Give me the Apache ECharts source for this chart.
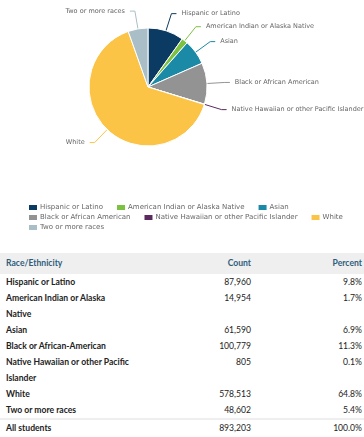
<!DOCTYPE html>
<html>
<head>
<meta charset="utf-8">
<script src="https://cdn.jsdelivr.net/npm/echarts@6/dist/echarts.min.js"></script>
<style>
  html, body { margin: 0; padding: 0; background: #fff; width: 364px; height: 437px; overflow: hidden; }
  #chart { position: absolute; left: 0; top: 0; width: 364px; height: 250px; }
  #tbl { position: absolute; left: 0; top: 253px; width: 364px; font-family: Lato, "Open Sans", sans-serif; font-size: 8.6px; color: #222; font-weight: bold; }
  .row { display: flex; line-height: 16px; }
  .c1 { width: 134px; padding-left: 6px; box-sizing: border-box; white-space: pre; }
  .c2 { width: 117px; text-align: right; font-weight: normal; }
  .c3 { width: 111px; text-align: right; font-weight: normal; }
  .hdr { background: #efefef; line-height: 21px; color: #2e5d7c; }
  .hdr .c2, .hdr .c3 { font-weight: bold; }
  .total { border-top: 2px solid #eeeeee; }
</style>
</head>
<body>
<div id="chart"></div>
<div id="tbl"></div>
<script>
// Legend / pie categories
var categories = ["Hispanic or Latino", "American Indian or Alaska Native", "Asian", "Black or African American", "Native Hawaiian or other Pacific Islander", "White", "Two or more races"];
// Student counts
var counts = [87960, 14954, 61590, 100779, 805, 578513, 48602];
// Table labels (line breaks as in the source table) and percents
var tableLabels = ["Hispanic or Latino", "American Indian or Alaska\nNative", "Asian", "Black or African-American", "Native Hawaiian or other Pacific\nIslander", "White", "Two or more races"];
var percents = ["9.8%", "1.7%", "6.9%", "11.3%", "0.1%", "64.8%", "5.4%"];
var totalLabel = "All students";
var totalCount = 893203;
var totalPercent = "100.0%";
var colors = ["#0b3a62", "#7cc142", "#1a8aa6", "#939393", "#5b2a5e", "#fcc447", "#a9bec7"];

var legendRows = [
  ["Hispanic or Latino", "American Indian or Alaska Native", "Asian"],
  ["Black or African American", "Native Hawaiian or other Pacific Islander", "White"],
  ["Two or more races"]
];

var chart = echarts.init(document.getElementById('chart'));
var legendBase = {
  orient: 'horizontal', left: 22, itemWidth: 10, itemHeight: 7, itemGap: 12,
  icon: 'rect',
  textStyle: { fontFamily: 'DejaVu Sans', fontSize: 7, color: '#666', padding: [0, 0, 0, -3] }
};
var legends = legendRows.map(function (row, i) {
  return Object.assign({}, legendBase, { data: row, top: 198 + i * 10 });
});

chart.setOption({
  animation: false,
  color: colors,
  legend: legends,
  series: [{
    type: 'pie',
    center: [148, 87],
    radius: 59,
    startAngle: 90,
    clockwise: true,
    avoidLabelOverlap: true,
    itemStyle: { borderColor: '#fff', borderWidth: 1 },
    label: { show: true, fontFamily: 'DejaVu Sans', fontSize: 6.5, color: '#666', formatter: '{b}', overflow: 'none' },
    labelLine: { show: true, length: 18, length2: 5, lineStyle: { width: 1 } },
    data: categories.map(function (c, i) { return { name: c, value: counts[i] }; })
  }]
});

function fmt(n) { return n.toLocaleString('en-US'); }
var html = '<div class="row hdr"><div class="c1">Race/Ethnicity</div><div class="c2">Count</div><div class="c3">Percent</div></div>';
tableLabels.forEach(function (l, i) {
  html += '<div class="row"><div class="c1">' + l + '</div><div class="c2">' + fmt(counts[i]) + '</div><div class="c3">' + percents[i] + '</div></div>';
});
html += '<div class="row total"><div class="c1">' + totalLabel + '</div><div class="c2">' + fmt(totalCount) + '</div><div class="c3">' + totalPercent + '</div></div>';
document.getElementById('tbl').innerHTML = html;
</script>
</body>
</html>
